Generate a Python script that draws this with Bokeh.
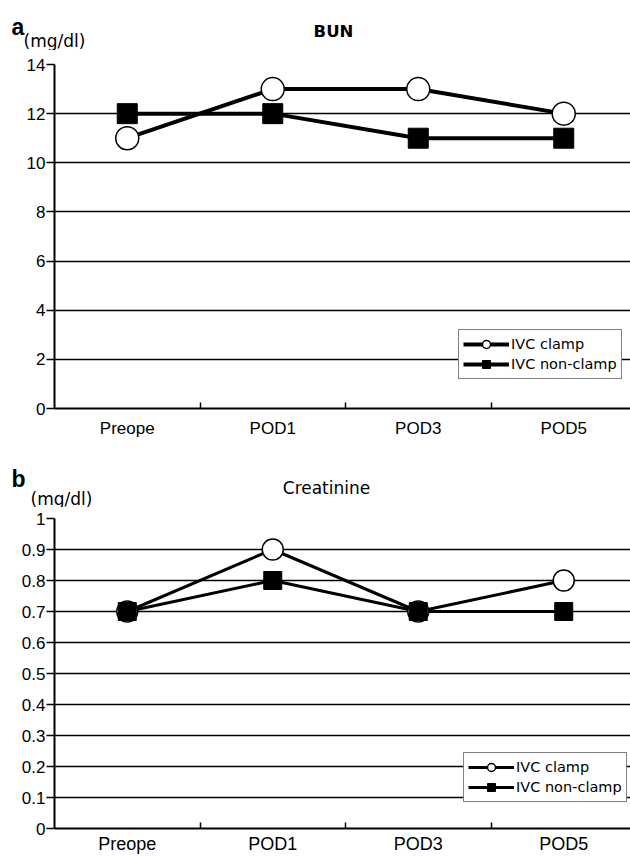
from bokeh.plotting import figure
from bokeh.models import Range1d, FixedTicker, Label, Legend, LegendItem
from bokeh.layouts import column
from bokeh.embed import file_html
from bokeh.resources import INLINE

# ---------------- data ----------------
categories = ["Preope", "POD1", "POD3", "POD5"]
series_names = ["IVC clamp", "IVC non-clamp"]

bun_title = "BUN"
bun_ticks = [0, 2, 4, 6, 8, 10, 12, 14]
bun_tick_labels = ["0", "2", "4", "6", "8", "10", "12", "14"]
bun_clamp = [11, 13, 13, 12]
bun_nonclamp = [12, 12, 11, 11]

cre_title = "Creatinine"
cre_ticks = [0, 0.1, 0.2, 0.3, 0.4, 0.5, 0.6, 0.7, 0.8, 0.9, 1.0]
cre_tick_labels = ["0", "0.1", "0.2", "0.3", "0.4", "0.5", "0.6", "0.7", "0.8", "0.9", "1"]
cre_clamp = [0.7, 0.9, 0.7, 0.8]
cre_nonclamp = [0.7, 0.8, 0.7, 0.7]

unit_text = "(mg/dl)"

FONT = "Liberation Sans"
FONT2 = "DejaVu Sans"
CAT_PX = 145.5
FIG_W = 630
BORDER_L = 54


def make_header(h, letter, title, txt):
    """A text-only strip above each panel holding the panel letter, unit and title."""
    hd = figure(width=FIG_W, height=h, output_backend="svg", toolbar_location=None,
                title=None, x_axis_type=None, y_axis_type=None,
                x_range=Range1d(0, FIG_W), y_range=Range1d(0, h),
                min_border=0, min_border_left=0, min_border_right=0,
                min_border_top=0, min_border_bottom=0)
    try:
        hd.frame_align = False
    except Exception:
        pass
    hd.outline_line_color = None
    hd.background_fill_color = "white"
    hd.border_fill_color = "white"
    for (text, xp, yp, font, size, style, align) in [
        (letter, txt["letter"][0], txt["letter"][1], FONT, "23px", "bold", "left"),
        (unit_text, txt["unit"][0], txt["unit"][1], FONT2, "17px", "normal", "left"),
        (title, txt["title"][0], txt["title"][1], FONT2, txt["title"][2], txt["title"][3], "center"),
    ]:
        hd.add_layout(Label(x=xp, y=yp, x_units="canvas", y_units="canvas", text=text,
                            text_font=font, text_font_size=size, text_font_style=style,
                            text_align=align, text_baseline="alphabetic",
                            text_color="black"))
    return hd


def make_panel(ticks, tick_labels, clamp, nonclamp, fig_h, b_top, b_bottom, lw,
               csize, ssize, legend_loc, xlab_size, ylab_size, xstandoff):
    frame_w = FIG_W - BORDER_L
    ymax = ticks[-1]
    x_end = frame_w / CAT_PX
    p = figure(width=FIG_W, height=fig_h, output_backend="svg", toolbar_location=None,
               title=None, x_range=Range1d(0, x_end), y_range=Range1d(0, ymax),
               min_border_left=BORDER_L, min_border_right=0, min_border_top=b_top,
               min_border_bottom=b_bottom)
    p.outline_line_color = None
    p.background_fill_color = "white"
    p.xgrid.grid_line_color = None
    p.ygrid.grid_line_color = "black"
    p.ygrid.grid_line_width = 1.3
    p.ygrid.ticker = FixedTicker(ticks=ticks)

    xs = [i + 0.5 for i in range(len(categories))]
    p.xaxis.ticker = FixedTicker(ticks=xs, minor_ticks=[float(i) for i in range(1, len(categories))])
    p.xaxis.major_label_overrides = {x: c for x, c in zip(xs, categories)}
    p.xaxis.major_tick_line_color = None
    p.xaxis.major_tick_in = 0
    p.xaxis.major_tick_out = 0
    p.xaxis.minor_tick_in = 6
    p.xaxis.minor_tick_out = 0
    p.xaxis.minor_tick_line_color = "black"
    p.xaxis.minor_tick_line_width = 1.5
    p.xaxis.axis_line_width = 2
    p.xaxis.axis_line_color = "black"
    p.xaxis.major_label_text_font = FONT
    p.xaxis.major_label_text_font_size = xlab_size
    p.xaxis.major_label_text_color = "black"
    p.xaxis.major_label_standoff = xstandoff

    p.yaxis.ticker = FixedTicker(ticks=ticks)
    p.yaxis.major_label_overrides = {t: l for t, l in zip(ticks, tick_labels)}
    p.yaxis.major_tick_in = 0
    p.yaxis.major_tick_out = 8
    p.yaxis.major_tick_line_width = 1.3
    p.yaxis.major_tick_line_color = "black"
    p.yaxis.minor_tick_line_color = None
    p.yaxis.axis_line_width = 2
    p.yaxis.axis_line_color = "black"
    p.yaxis.major_label_text_font = FONT
    p.yaxis.major_label_text_font_size = ylab_size
    p.yaxis.major_label_text_color = "black"
    p.yaxis.major_label_standoff = 1

    l1 = p.line(xs, clamp, line_color="black", line_width=lw)
    l2 = p.line(xs, nonclamp, line_color="black", line_width=lw)
    m1 = p.scatter(xs, clamp, marker="circle", size=csize, fill_color="white",
                   line_color="black", line_width=1.5)
    m2 = p.scatter(xs, nonclamp, marker="square", size=ssize, fill_color="black",
                   line_color="black", line_width=1)

    legend = Legend(items=[LegendItem(label=series_names[0], renderers=[l1, m1]),
                           LegendItem(label=series_names[1], renderers=[l2, m2])],
                    location=legend_loc)
    legend.border_line_color = "black"
    legend.border_line_width = 1.5
    legend.background_fill_color = "white"
    legend.background_fill_alpha = 1
    legend.padding = 4
    legend.spacing = 0
    legend.margin = 0
    legend.label_standoff = 2
    legend.glyph_width = 46
    legend.glyph_height = 20
    legend.label_height = 20
    legend.label_text_font = FONT2
    legend.label_text_font_size = "14.5px"
    legend.label_text_color = "black"
    p.add_layout(legend)
    return p


h1 = make_header(50, "a", bun_title,
                 {"letter": (11, 26), "unit": (23, 40), "title": (333, 31, "16.5px", "bold")})
p1 = make_panel(bun_ticks, bun_tick_labels, bun_clamp, bun_nonclamp,
                fig_h=398, b_top=14, b_bottom=40, lw=4, csize=23, ssize=20,
                legend_loc=(404, 29), xlab_size="17px", ylab_size="17px", xstandoff=10)

h2 = make_header(59, "b", cre_title,
                 {"letter": (11, 30), "unit": (30, 50), "title": (326, 39, "17px", "normal")})
p2 = make_panel(cre_ticks, cre_tick_labels, cre_clamp, cre_nonclamp,
                fig_h=349, b_top=11, b_bottom=28, lw=3, csize=21, ssize=18,
                legend_loc=(409, 26), xlab_size="18px", ylab_size="17px", xstandoff=5)

layout = column(h1, p1, h2, p2, spacing=0)
open("out.html", "w").write(file_html(layout, INLINE))
